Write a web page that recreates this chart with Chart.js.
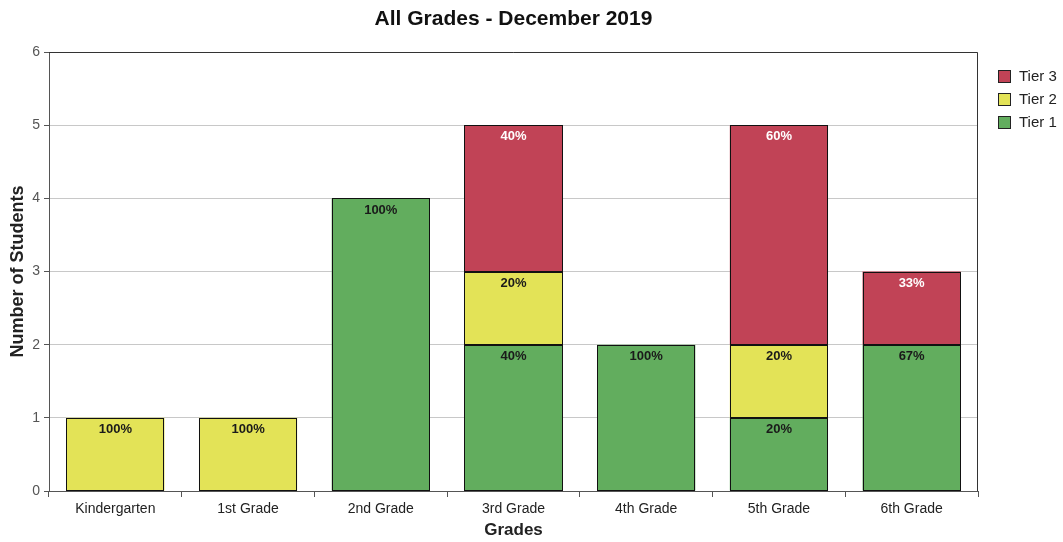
<!DOCTYPE html>
<html>
<head>
<meta charset="utf-8">
<script src="https://cdn.jsdelivr.net/npm/chart.js@4"></script>
<style>
  html, body { margin: 0; padding: 0; background: #fff; }
  #wrap { width: 1063px; height: 542px; }
</style>
</head>
<body>
<div id="wrap"><canvas id="myChart" width="1063" height="542"></canvas></div>
<script>
var grades = ['Kindergarten', '1st Grade', '2nd Grade', '3rd Grade', '4th Grade', '5th Grade', '6th Grade']
var tier1 = [null, null, 4, 2, 2, 1, 2]
var tier2 = [1, 1, null, 1, null, 1, null]
var tier3 = [null, null, null, 2, null, 3, 1]
var tierNames = ['Tier 1', 'Tier 2', 'Tier 3']
var tierColors = ['#62ad5e', '#e3e357', '#c14356']
var labelColors = ['#1a1a1a', '#1a1a1a', '#ffffff']

var font = 'Liberation Sans'

// totals per grade for the percentage labels
var totals = []
for (var i = 0; i < grades.length; i++) {
    totals.push((tier1[i] || 0) + (tier2[i] || 0) + (tier3[i] || 0))
}

// crisp black outlines + percent text on every segment
var barOutlineLabels = {
    id: 'barOutlineLabels',
    afterDatasetsDraw: function(chart) {
        var ctx = chart.ctx
        ctx.save()
        ctx.strokeStyle = '#111'
        ctx.lineWidth = 1
        chart.data.datasets.forEach(function(ds, di) {
            var meta = chart.getDatasetMeta(di)
            meta.data.forEach(function(bar, i) {
                if (!ds.data[i]) return
                var l = Math.round(bar.x - bar.width / 2) + 0.5
                var r = Math.round(bar.x + bar.width / 2) - 0.5
                var t = Math.round(bar.y) + 0.5
                var b = Math.round(bar.base) - 0.5
                ctx.strokeRect(l, t, r - l, b - t)
            })
        })
        ctx.font = 'bold 13px ' + font
        ctx.textAlign = 'center'
        ctx.textBaseline = 'top'
        chart.data.datasets.forEach(function(ds, di) {
            var meta = chart.getDatasetMeta(di)
            meta.data.forEach(function(bar, i) {
                var v = ds.data[i]
                if (!v) return
                ctx.fillStyle = labelColors[di]
                ctx.fillText(Math.round(v / totals[i] * 100) + '%', bar.x, bar.y + 5)
            })
        })
        ctx.restore()
    }
}

var frameAndLegend = {
    id: 'frameAndLegend',
    afterDraw: function(chart) {
        var ctx = chart.ctx
        var a = chart.chartArea
        ctx.save()
        ctx.strokeStyle = '#333'
        ctx.lineWidth = 1
        ctx.beginPath()
        ctx.moveTo(Math.round(a.left), Math.round(a.top) + 0.5)
        ctx.lineTo(Math.round(a.right) - 0.5, Math.round(a.top) + 0.5)
        ctx.lineTo(Math.round(a.right) - 0.5, Math.round(a.bottom))
        ctx.stroke()
        // legend, top to bottom: Tier 3, Tier 2, Tier 1
        ctx.font = '15px ' + font
        ctx.textBaseline = 'middle'
        ctx.textAlign = 'left'
        for (var k = 0; k < 3; k++) {
            var di = 2 - k
            var y = 76 + k * 23
            ctx.fillStyle = tierColors[di]
            ctx.fillRect(998, y - 6, 13, 13)
            ctx.strokeStyle = '#222'
            ctx.strokeRect(998.5, y - 5.5, 12, 12)
            ctx.fillStyle = '#222'
            ctx.fillText(tierNames[di], 1019, y + 1)
        }
        ctx.restore()
    }
}

var ctx = document.getElementById('myChart')

new Chart(ctx, {
    type: 'bar',
    data: {
        labels: grades,
        datasets: [
            { label: tierNames[0], data: tier1, backgroundColor: tierColors[0] },
            { label: tierNames[1], data: tier2, backgroundColor: tierColors[1] },
            { label: tierNames[2], data: tier3, backgroundColor: tierColors[2] }
        ].map(function(d) {
            d.borderWidth = 0
            d.barPercentage = 0.74
            d.categoryPercentage = 1
            return d
        })
    },
    options: {
        responsive: false,
        animation: false,
        layout: { padding: { left: 0, right: 85, top: 0, bottom: 0 } },
        plugins: {
            legend: { display: false },
            tooltip: { enabled: false },
            title: {
                display: true,
                fullSize: false,
                text: 'All Grades - December 2019',
                color: '#111',
                font: { family: font, size: 21, weight: 'bold' },
                padding: { top: 7, bottom: 20 }
            }
        },
        scales: {
            x: {
                stacked: true,
                afterFit: function(s) { s.height = 51 },
                grid: { drawOnChartArea: false, tickLength: 6, color: '#555', offset: true },
                border: { color: '#555' },
                ticks: { color: '#222', font: { family: font, size: 14 }, padding: 4 },
                title: {
                    display: true, text: 'Grades', color: '#222',
                    font: { family: font, size: 17, weight: 'bold' }, padding: { top: 0, bottom: 1 }
                }
            },
            y: {
                stacked: true,
                min: 0,
                max: 6,
                afterFit: function(s) { s.width = 49 },
                grid: { color: '#c8c8c8', tickColor: '#555', tickLength: 5 },
                border: { color: '#555' },
                ticks: { stepSize: 1, color: '#555', font: { family: font, size: 14 }, padding: 4 },
                title: {
                    display: true, text: 'Number of Students', color: '#222',
                    font: { family: font, size: 18, weight: 'bold' }, padding: { top: 7, bottom: 0 }
                }
            }
        }
    },
    plugins: [barOutlineLabels, frameAndLegend]
})
</script>
</body>
</html>
